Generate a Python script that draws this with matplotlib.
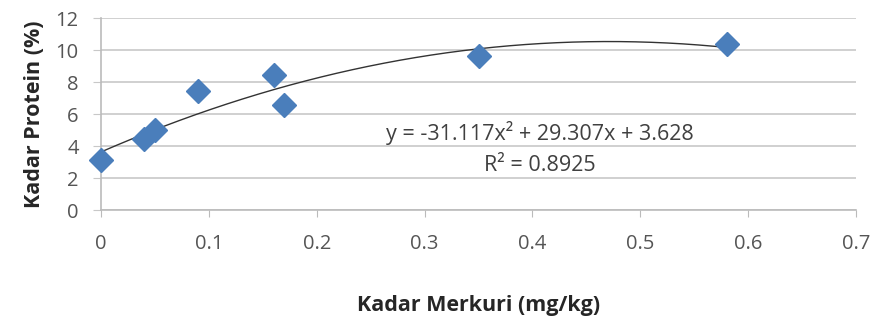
import matplotlib
matplotlib.use("Agg")
import matplotlib.pyplot as plt
import numpy as np

mercury = [0.0, 0.04, 0.05, 0.09, 0.16, 0.17, 0.35, 0.58]
protein = [3.1, 4.45, 5.0, 7.45, 8.45, 6.55, 9.65, 10.35]
coef = [-31.117, 29.307, 3.628]
r2 = 0.8925
xticks = [0, 0.1, 0.2, 0.3, 0.4, 0.5, 0.6, 0.7]
yticks = [0, 2, 4, 6, 8, 10, 12]

plt.rcParams['font.family'] = ['Open Sans', 'DejaVu Sans']

fig = plt.figure(figsize=(8.75, 3.22), dpi=100)
ax = fig.add_axes([101/875, 1-210/322, 755/875, 192/322])

ax.set_xlim(0, 0.7)
ax.set_ylim(0, 12)
ax.set_xticks(xticks)
ax.set_xticklabels(['0'] + [f'{v:g}' for v in xticks[1:]])
ax.set_yticks(yticks)

for y in yticks:
    ax.axhline(y, color='#C8C8C8', lw=1.2, zorder=0)

xs = np.linspace(0, max(mercury), 200)
ax.plot(xs, np.polyval(coef, xs), color='#333333', lw=1.0, zorder=2)
ax.plot(mercury, protein, linestyle='none', marker='D', markersize=12,
        color='#4A7EBB', markeredgecolor='#4A7EBB', zorder=3, clip_on=False)

for s in ['top', 'right']:
    ax.spines[s].set_visible(False)
ax.spines['bottom'].set_color('#BBBBBB')
ax.spines['left'].set_color('#BBBBBB')
ax.spines['bottom'].set_linewidth(1.2)
ax.spines['left'].set_linewidth(1.2)
ax.tick_params(axis='x', direction='out', length=5, color='#BBBBBB', labelsize=14.5,
               labelcolor='#555555', pad=12)
ax.tick_params(axis='y', direction='out', length=6, color='#C8C8C8', labelsize=14.5,
               labelcolor='#555555', pad=10)

ax.text(0.407, 4.8, 'y = -31.117x² + 29.307x + 3.628', ha='center', va='center',
        fontsize=15.5, color='#404040')
ax.text(0.407, 2.8, f'R² = {r2}', ha='center', va='center', fontsize=15.5, color='#404040')

ax.set_xlabel('Kadar Merkuri (mg/kg)', fontsize=15.5, fontweight='bold', color='#262626', labelpad=30)
ax.set_ylabel('Kadar Protein (%)', fontsize=15.5, fontweight='bold', color='#262626', labelpad=8)

fig.savefig('out.png', dpi=100)
